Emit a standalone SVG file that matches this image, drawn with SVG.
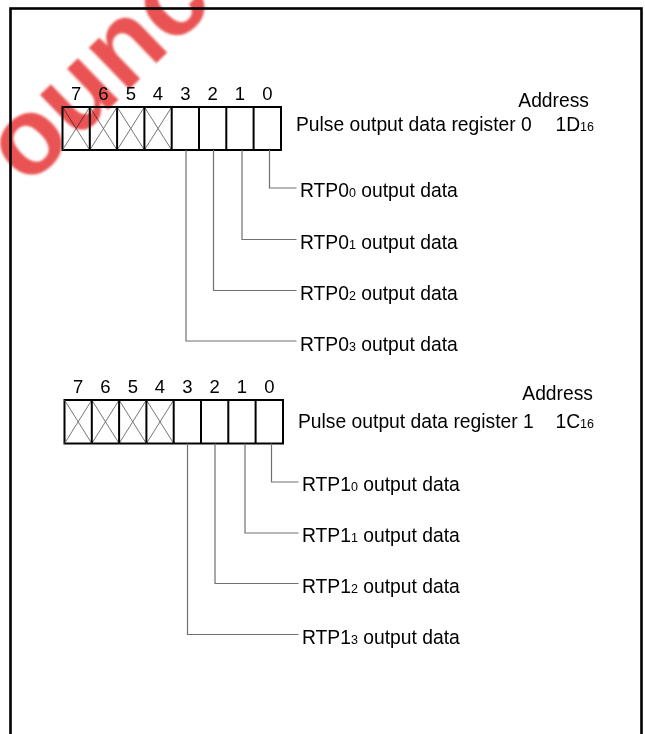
<svg xmlns="http://www.w3.org/2000/svg" width="645" height="734" viewBox="0 0 645 734">
<style>
text{font-family:"Liberation Sans",Arial,sans-serif;fill:#000}
.t{font-size:19.3px}
.b{font-size:18.5px;text-anchor:middle}
.s{font-size:12.5px}
.box{fill:#fff;stroke:#000;stroke-width:2}
.x{stroke:#666;stroke-width:0.9;fill:none}
.c{stroke:#707070;stroke-width:1.2;fill:none}
.wm{font-family:"Liberation Sans",Arial,sans-serif;font-weight:bold;font-size:110px;fill:#e63535;opacity:0.85;mix-blend-mode:multiply}
</style>
<defs>
<filter id="soft" x="-10%" y="-10%" width="120%" height="120%"><feGaussianBlur stdDeviation="1.3"/></filter>
</defs>
<rect x="0" y="0" width="645" height="734" fill="#fff"/>
<rect x="10.5" y="8.5" width="631" height="800" fill="none" stroke="#000" stroke-width="2.6"/>

<g id="reg0">
<rect class="box" x="62.5" y="107" width="218.5" height="43"/>
<path class="x" d="M62.5 107L89.8 150M89.8 107L62.5 150M89.8 107L117.1 150M117.1 107L89.8 150M117.1 107L144.4 150M144.4 107L117.1 150M144.4 107L171.7 150M171.7 107L144.4 150"/>
<path d="M89.8 107V150M117.1 107V150M144.4 107V150M171.7 107V150M199 107V150M226.3 107V150M253.6 107V150" stroke="#000" stroke-width="2" fill="none"/>
<text class="b" x="76.2" y="99.5">7</text>
<text class="b" x="103.5" y="99.5">6</text>
<text class="b" x="130.8" y="99.5">5</text>
<text class="b" x="158" y="99.5">4</text>
<text class="b" x="185.3" y="99.5">3</text>
<text class="b" x="212.6" y="99.5">2</text>
<text class="b" x="240" y="99.5">1</text>
<text class="b" x="267.3" y="99.5">0</text>
<text class="t" x="589" y="107" text-anchor="end">Address</text>
<text class="t" x="296" y="131">Pulse output data register 0</text>
<text class="t" x="594" y="131" text-anchor="end">1D<tspan class="s">16</tspan></text>
</g>

<g id="reg1">
<rect class="box" x="64.5" y="400" width="218.5" height="43.5"/>
<path class="x" d="M64.5 400L91.8 443.5M91.8 400L64.5 443.5M91.8 400L119.1 443.5M119.1 400L91.8 443.5M119.1 400L146.4 443.5M146.4 400L119.1 443.5M146.4 400L173.7 443.5M173.7 400L146.4 443.5"/>
<path d="M91.8 400V443.5M119.1 400V443.5M146.4 400V443.5M173.7 400V443.5M201 400V443.5M228.3 400V443.5M255.6 400V443.5" stroke="#000" stroke-width="2" fill="none"/>
<text class="b" x="78.2" y="392.5">7</text>
<text class="b" x="105.5" y="392.5">6</text>
<text class="b" x="132.8" y="392.5">5</text>
<text class="b" x="160" y="392.5">4</text>
<text class="b" x="187.3" y="392.5">3</text>
<text class="b" x="214.6" y="392.5">2</text>
<text class="b" x="242" y="392.5">1</text>
<text class="b" x="269.3" y="392.5">0</text>
<text class="t" x="593" y="400" text-anchor="end">Address</text>
<text class="t" x="298" y="428">Pulse output data register 1</text>
<text class="t" x="594" y="428" text-anchor="end">1C<tspan class="s">16</tspan></text>
</g>

<g id="connectors">
<path class="c" d="M269.5 150V188H296.5M242 150V239.5H296.5M213.5 150V290.5H296.5M186 150V341H296.5"/>
<path class="c" d="M271.5 443.5V482H298.5M245 443.5V533H298.5M215 443.5V583.5H298.5M187.5 443.5V634.5H298.5"/>
</g>

<g id="labels0">
<text class="t" x="300" y="197">RTP0<tspan class="s">0</tspan> output data</text>
<text class="t" x="300" y="248.5">RTP0<tspan class="s">1</tspan> output data</text>
<text class="t" x="300" y="299.5">RTP0<tspan class="s">2</tspan> output data</text>
<text class="t" x="300" y="350.5">RTP0<tspan class="s">3</tspan> output data</text>
</g>
<g id="labels1">
<text class="t" x="302" y="491">RTP1<tspan class="s">0</tspan> output data</text>
<text class="t" x="302" y="542">RTP1<tspan class="s">1</tspan> output data</text>
<text class="t" x="302" y="593">RTP1<tspan class="s">2</tspan> output data</text>
<text class="t" x="302" y="643.5">RTP1<tspan class="s">3</tspan> output data</text>
</g>

<g id="watermark">
<text class="wm" filter="url(#soft)" x="0" y="0" transform="translate(27 188) rotate(-44)">ounce</text>
</g>
</svg>
